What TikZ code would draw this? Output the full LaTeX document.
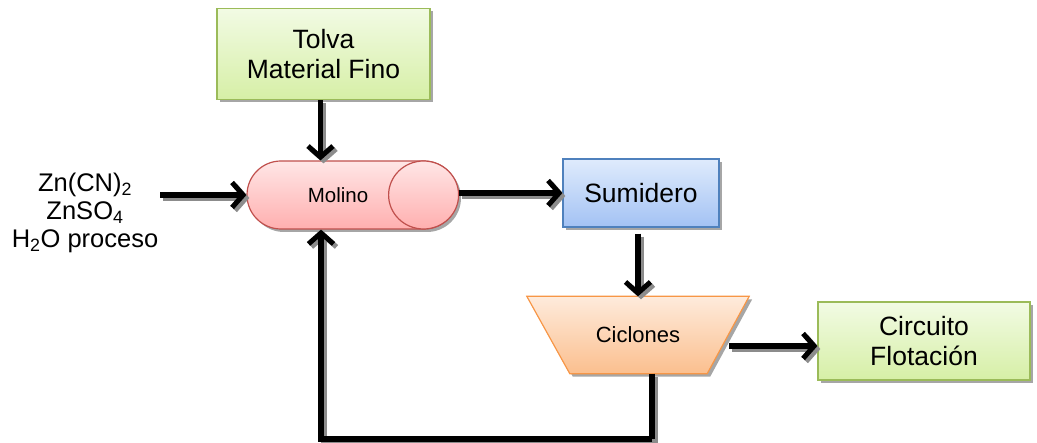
\documentclass[tikz,border=0pt]{standalone}
\usepackage{fontspec}
\setmainfont{Liberation Sans}
\usetikzlibrary{shapes.geometric,shapes.misc,shadows,arrows.meta,calc}
\definecolor{gbd}{HTML}{9BBB59}
\definecolor{gtop}{HTML}{F2FBE4}
\definecolor{gbot}{HTML}{D6EFA6}
\definecolor{rbd}{HTML}{C0504D}
\definecolor{rtop}{HTML}{FFE6E6}
\definecolor{rbot}{HTML}{FFAFAF}
\definecolor{bbd}{HTML}{4F81BD}
\definecolor{btop}{HTML}{DFEBFC}
\definecolor{bbot}{HTML}{A3C2F4}
\definecolor{obd}{HTML}{F79646}
\definecolor{otop}{HTML}{FEEBDC}
\definecolor{obot}{HTML}{FBBF8E}
\tikzset{
  x=1pt,y=-1pt,
  shd/.style={drop shadow={shadow xshift=3pt,shadow yshift=-3pt,fill=black,opacity=0.35}},
  greenbox/.style={rectangle,draw=gbd,line width=1.2pt,top color=gtop,bottom color=gbot,shd,
    font=\fontsize{26.5}{30}\selectfont,align=center,inner sep=0pt},
  arrbase/.style={line width=5.5pt,-{Straight Barb[length=11pt,width=25pt,line width=5pt]}},
  arr/.style={arrbase,draw=black},
  arrsh/.style={arrbase,draw=black!45,transform canvas={shift={(3pt,-3pt)}}},
  ln/.style={line width=5.5pt,draw=black},
  lnsh/.style={line width=5.5pt,draw=black!45,transform canvas={shift={(3pt,-3pt)}}},
}
\newcommand\myarrow[1]{\draw[arrsh] #1; \draw[arr] #1;}
\newcommand\myline[1]{\draw[lnsh] #1; \draw[ln] #1;}
\begin{document}
\begin{tikzpicture}
\useasboundingbox (0,0) rectangle (1037,443);
% Tolva
\node[greenbox,minimum width=213,minimum height=91] (tolva) at (323.5,54) {Tolva\\Material Fino};
% Molino
\node[rounded rectangle,draw=rbd,line width=1.2pt,top color=rtop,bottom color=rbot,shd,
  minimum width=211,minimum height=68,inner sep=0pt] (molino) at (352.5,195) {};
\path[draw=rbd,line width=1.2pt,top color=rtop,bottom color=rbot]
  ($(molino.east)+(-35,0)$) ellipse [x radius=35,y radius=34];
\node[font=\fontsize{20.5}{24}\selectfont] (moltxt) at (338,195) {Molino};
% Sumidero
\node[rectangle,draw=bbd,line width=1.2pt,top color=btop,bottom color=bbot,shd,
  minimum width=156,minimum height=68,font=\fontsize{26.5}{30}\selectfont] (sumidero) at (641,193) {Sumidero};
% Ciclones
\node[rectangle,minimum width=222,minimum height=77,inner sep=0pt] (ciclones) at (638,335) {};
\path[draw=obd,line width=1.2pt,top color=otop,bottom color=obot,shd]
  (ciclones.north west) -- (ciclones.north east) -- ($(ciclones.south east)+(-42,0)$)
  -- ($(ciclones.south west)+(43,0)$) -- cycle;
\node[font=\fontsize{22}{26}\selectfont] (cictxt) at (ciclones.center) {Ciclones};
% Circuito
\node[greenbox,minimum width=212,minimum height=78] (circuito) at (924,341) {Circuito\\Flotaci\'on};
% Inputs
\node[font=\fontsize{25.5}{28}\selectfont,align=center] (inputs) at (85,213)
  {Zn(CN)\textsubscript{2}\\ZnSO\textsubscript{4}\\H\textsubscript{2}O proceso};
% Connectors
\coordinate (inL) at (160,195);
\coordinate (t1) at ($(tolva.south)+(-3,0)$);
\coordinate (s1) at ($(sumidero.south)+(-3,6)$);
\coordinate (cout) at (729,346);
\coordinate (fb1) at (652,439);
\coordinate (fb2) at (321,439);
\myline{(ciclones.south -| fb1) -- (fb1) -- (fb2) -- ++(0,-20)}
\myarrow{(inL) -- (molino.west)}
\myarrow{(t1) -- (t1 |- molino.north)}
\myarrow{(molino.east |- sumidero.west) -- (sumidero.west)}
\myarrow{(s1) -- (s1 |- ciclones.north)}
\myarrow{(cout) -- (cout -| circuito.west)}
\myarrow{(fb1) -- (fb2) -- (fb2 |- molino.south)}
\end{tikzpicture}
\end{document}
